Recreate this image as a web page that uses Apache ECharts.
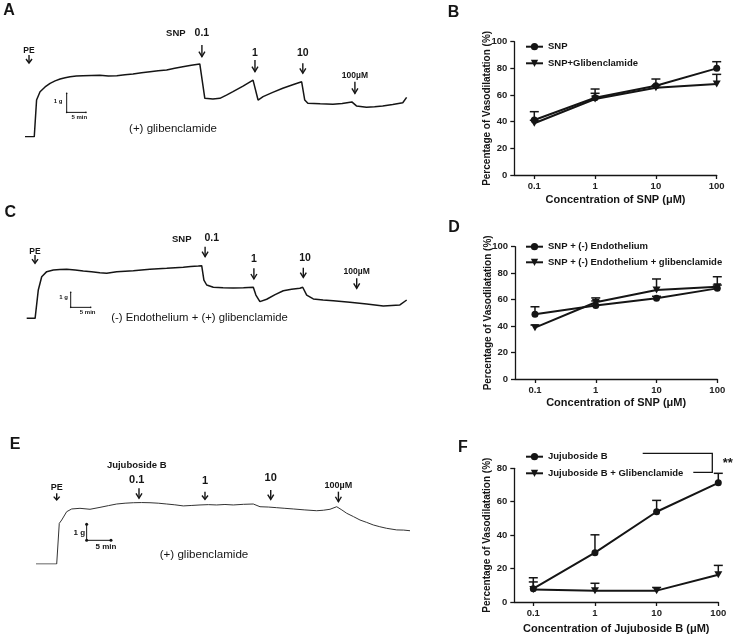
<!DOCTYPE html>
<html><head><meta charset="utf-8">
<script src="https://cdn.jsdelivr.net/npm/echarts@6/dist/echarts.min.js"></script>
<style>html,body{margin:0;padding:0;background:#fff}#c{width:736px;height:635px}</style>
</head><body><div id="c"></div>
<script>
// ---------- dose–response data (% vasodilatation) ----------
const concentrations = [0.1, 1, 10, 100];
const xTickLabels = ['0.1', '1', '10', '100'];
const snpB = [41.3, 58, 67, 80];
const snpBErr = [47.5, 64.5, 72, 85];
const snpGlibB = [38.8, 57, 65.5, 68.3];
const snpGlibBErr = [41, 61.3, 67, 75.5];
const snpEndoD = [49, 55.5, 61, 68.5];
const snpEndoDErr = [54.6, 59, 62.5, 71];
const snpEndoGlibD = [38.8, 58, 67.3, 69.8];
const snpEndoGlibDErr = [40.8, 61.3, 75.6, 77.3];
const jujuF = [8, 29.5, 54, 71.3];
const jujuFErr = [14.5, 40.2, 60.8, 77];
const jujuGlibF = [7.5, 6.8, 6.8, 16.3];
const jujuGlibFErr = [12, 11.2, 8.7, 21.9];

// ---------- tension traces: [time (min), tension (g)] ----------
const traceA = [[0,0],[2.4,0],[3.0,1.93],[3.9,2.37],[5.2,2.62],[6.5,2.81],[7.8,2.94],[9.1,3.04],[10.4,3.1],[11.7,3.16],[13.3,3.19],[15.0,3.21],[17.2,3.22],[19.4,3.23],[21.6,3.2],[23.8,3.21],[25.9,3.26],[28.0,3.3],[30.2,3.36],[32.4,3.42],[34.5,3.47],[36.7,3.51],[38.8,3.6],[40.9,3.68],[43.1,3.76],[45.3,3.83],[45.8,3.86],[46.6,2.02],[47.0,1.98],[48.7,1.99],[50.5,2.02],[52.2,2.19],[53.9,2.37],[56.5,2.66],[59.1,2.98],[59.6,2.89],[60.4,1.93],[61.7,2.11],[64.2,2.33],[66.8,2.55],[69.2,2.72],[71.7,2.89],[72.5,1.93],[73.3,1.76],[76.5,1.73],[79.8,1.71],[82.2,1.75],[84.7,1.83],[85.0,1.89],[85.9,1.62],[88.5,1.55],[90.6,1.58],[92.7,1.62],[95.3,1.7],[97.9,1.79],[98.9,2.07]];
const traceC = [[0,0],[2.1,0],[2.9,1.89],[3.75,2.77],[5.0,3.11],[6.65,3.22],[8.3,3.25],[10.0,3.27],[12.1,3.22],[14.15,3.15],[16.2,3.1],[18.3,3.04],[20.0,3.0],[22.5,3.11],[24.6,3.14],[26.65,3.17],[28.7,3.22],[30.8,3.27],[32.9,3.3],[35.0,3.33],[37.1,3.37],[39.15,3.4],[41.0,3.45],[42.9,3.49],[43.75,3.51],[44.3,2.55],[45.0,2.22],[46.65,2.07],[49.1,2.04],[51.65,2.02],[54.2,2.04],[56.65,2.07],[57.3,1.55],[58.3,1.11],[60.0,1.27],[62.1,1.58],[64.15,1.84],[66.2,1.93],[68.3,2.0],[69.0,2.07],[70.0,1.55],[71.65,1.29],[74.1,1.22],[76.65,1.17],[80.8,1.07],[85.0,0.95],[89.15,0.82],[93.3,0.89],[95.0,1.22]];
const traceE = [[0,0],[4.25,0],[4.78,2.54],[5.28,2.75],[6.3,3.27],[7.33,3.44],[9.03,3.48],[11.09,3.42],[13.14,3.54],[14.9,3.65],[16.57,3.75],[18.3,3.8],[19.98,3.83],[21.7,3.84],[23.41,3.83],[25.1,3.8],[26.84,3.75],[28.5,3.7],[30.25,3.63],[32.0,3.66],[33.68,3.69],[35.4,3.71],[37.1,3.69],[38.8,3.72],[40.51,3.69],[42.6,3.73],[44.62,3.75],[46.0,3.58],[47.7,3.56],[49.43,3.52],[51.1,3.48],[52.83,3.44],[55.2,3.38],[57.64,3.33],[59.0,3.36],[60.37,3.42],[61.75,3.58],[62.8,3.38],[63.8,3.17],[65.2,2.96],[66.53,2.75],[67.9,2.6],[69.26,2.44],[70.6,2.33],[72.01,2.23],[74.07,2.13],[75.5,2.12],[76.8,2.08]];

// ---------- drug-addition arrows: [time, arrow top (g), arrow tip (g)] ----------
const arrowsA = [[1.04,4.30,3.88],[45.85,4.83,4.21],[59.6,4.04,3.42],[72.0,3.86,3.34],[85.5,2.89,2.28]];
const labelsA = [[1.04,4.51,'PE'],[39.1,5.44,'SNP'],[45.85,5.44,'0.1'],[59.6,4.39,'1'],[72.0,4.39,'10'],[85.5,3.19,'100µM']];
const arrowsC = [[2.08,4.22,3.67],[44.6,4.77,4.11],[56.8,3.33,2.62],[69.15,3.37,2.73],[82.5,2.67,2.0]];
const labelsC = [[2.08,4.44,'PE'],[38.75,5.27,'SNP'],[46.25,5.33,'0.1'],[56.8,3.93,'1'],[69.6,4.0,'10'],[82.5,3.11,'100µM']];
const arrowsE = [[4.25,4.42,4.0],[21.15,4.73,4.11],[34.7,4.52,4.04],[48.2,4.63,4.04],[62.1,4.52,3.89]];
const labelsE = [[4.25,4.77,'PE'],[20.68,6.19,'Jujuboside B'],[20.68,5.25,'0.1'],[34.7,5.21,'1'],[48.2,5.36,'10'],[62.1,4.875,'100µM']];
// scale bars: anchor [time, g]; 1 g vertical, 5 min horizontal
const scaleBarA = [10.8, 1.28];
const scaleBarC = [11.0, 0.73];
const scaleBarE = [10.4, 1.48];
const scaleMinutes = 5, scaleGrams = 1;

const FF = 'Liberation Sans, Arial, sans-serif';
const INK = '#151515';
const chart = echarts.init(document.getElementById('c'));

function fontFor(text, big) {
  if (text === 'PE' || text === '100µM') return big ? 9 : 8.5;
  if (text === 'SNP') return 9.5;
  if (text === 'Jujuboside B') return 9.5;
  return big ? 11 : 10.5;
}

function arrowSeries(arr, gi) {
  return { type: 'custom', xAxisIndex: gi, yAxisIndex: gi, silent: true, clip: false,
    data: arr,
    renderItem: function (params, api) {
      const t = api.value(0);
      const top = api.coord([t, api.value(1)]);
      const tip = api.coord([t, api.value(2)]);
      const h = Math.min(5, (tip[1] - top[1]) * 0.5), w = 3;
      return { type: 'group', children: [
        { type: 'line', shape: { x1: top[0], y1: top[1], x2: tip[0], y2: tip[1] }, style: { stroke: INK, lineWidth: 1.4 } },
        { type: 'polyline', shape: { points: [[tip[0] - w, tip[1] - h], [tip[0], tip[1]], [tip[0] + w, tip[1] - h]] }, style: { stroke: INK, lineWidth: 1.4, fill: null } }
      ]};
    } };
}
function labelSeries(arr, gi, big) {
  return { type: 'custom', xAxisIndex: gi, yAxisIndex: gi, silent: true, clip: false,
    data: arr.map(d => [d[0], d[1]]),
    renderItem: function (params, api) {
      const p = api.coord([api.value(0), api.value(1)]);
      const txt = arr[params.dataIndex][2];
      return { type: 'text', x: p[0], y: p[1], style: { text: txt, fill: INK,
        fontSize: fontFor(txt, big), fontWeight: 'bold', fontFamily: FF, align: 'center', verticalAlign: 'middle' } };
    } };
}
function scaleBarSeries(anchor, gi, fs, dx1, dy1, dx2, dy2, dots) {
  return { type: 'custom', xAxisIndex: gi, yAxisIndex: gi, silent: true, clip: false,
    data: [anchor],
    renderItem: function (params, api) {
      const t = api.value(0), g = api.value(1);
      const o = api.coord([t, g]), v = api.coord([t, g + scaleGrams]), h = api.coord([t + scaleMinutes, g]);
      const ch = [
        { type: 'line', shape: { x1: o[0], y1: o[1], x2: v[0], y2: v[1] }, style: { stroke: INK, lineWidth: 1 } },
        { type: 'line', shape: { x1: o[0], y1: o[1], x2: h[0], y2: h[1] }, style: { stroke: INK, lineWidth: 1 } },
        { type: 'text', x: o[0] + dx1, y: (o[1] + v[1]) / 2 + dy1, style: { text: '1 g', fill: INK, fontSize: fs, fontWeight: 'bold', fontFamily: FF, align: 'center', verticalAlign: 'middle' } },
        { type: 'text', x: h[0] + dx2, y: h[1] + dy2, style: { text: '5 min', fill: INK, fontSize: fs, fontWeight: 'bold', fontFamily: FF, align: 'center', verticalAlign: 'middle' } }
      ];
      [o, v, h].forEach(p => ch.push({ type: 'circle', shape: { cx: p[0], cy: p[1], r: dots }, style: { fill: INK } }));
      return { type: 'group', children: ch };
    } };
}
function traceSeries(data, gi, width, color) {
  return { type: 'line', xAxisIndex: gi, yAxisIndex: gi, data: data, showSymbol: false, silent: true,
    lineStyle: { width: width, color: color }, z: 3 };
}
function errSeries(vals, errs, gi) {
  return { type: 'custom', xAxisIndex: gi, yAxisIndex: gi, silent: true, z: 1,
    data: concentrations.map((c, i) => [c, vals[i], errs[i]]),
    renderItem: function (params, api) {
      const c = api.value(0);
      const p0 = api.coord([c, api.value(1)]), p1 = api.coord([c, api.value(2)]);
      return { type: 'group', children: [
        { type: 'line', shape: { x1: p0[0], y1: p0[1], x2: p1[0], y2: p1[1] }, style: { stroke: INK, lineWidth: 1.5 } },
        { type: 'line', shape: { x1: p1[0] - 4.5, y1: p1[1], x2: p1[0] + 4.5, y2: p1[1] }, style: { stroke: INK, lineWidth: 1.5 } }
      ]};
    } };
}
const TRI = 'path://M0,0L10,0L5,8.7Z';
function doseSeries(name, vals, gi, tri) {
  return { type: 'line', name: name, xAxisIndex: gi, yAxisIndex: gi,
    data: concentrations.map((c, i) => [c, vals[i]]),
    symbol: tri ? TRI : 'circle', symbolSize: tri ? [8, 7] : 7, showAllSymbol: true,
    lineStyle: { width: 2, color: INK }, itemStyle: { color: INK }, z: 2 };
}
function tickFmt(v) {
  for (let i = 0; i < concentrations.length; i++) if (Math.abs(Math.log10(v) - Math.log10(concentrations[i])) < 1e-6) return xTickLabels[i];
  return '';
}
function doseX(gi, min, name, gap) {
  return { gridIndex: gi, type: 'log', logBase: 10, min: min, max: 100,
    name: name, nameLocation: 'middle', nameGap: gap, nameMoveOverlap: false,
    nameTextStyle: { fontSize: 11, fontWeight: 'bold', color: INK, fontFamily: FF },
    axisLine: { lineStyle: { color: INK, width: 1.3 } },
    axisTick: { length: 4, lineStyle: { color: INK, width: 1.3 }, customValues: concentrations },
    axisLabel: { customValues: concentrations, formatter: tickFmt, fontSize: 9.5, fontWeight: 'bold', color: '#222', fontFamily: FF, margin: 6 },
    splitLine: { show: false }, minorTick: { show: false } };
}
function doseY(gi, max) {
  return { gridIndex: gi, type: 'value', min: 0, max: max, interval: 20,
    name: 'Percentage of Vasodilatation (%)', nameLocation: 'middle', nameGap: 22, nameMoveOverlap: false,
    nameTextStyle: { fontSize: 10, fontWeight: 'bold', color: INK, fontFamily: FF },
    axisLine: { show: true, lineStyle: { color: INK, width: 1.3 } },
    axisTick: { show: true, length: 4, lineStyle: { color: INK, width: 1.3 } },
    axisLabel: { fontSize: 9.5, fontWeight: 'bold', color: '#222', fontFamily: FF, margin: 7 },
    splitLine: { show: false } };
}
function traceAxes(gi, xmax) {
  return [
    { gridIndex: gi, type: 'value', min: 0, max: xmax, show: false },
    { gridIndex: gi, type: 'value', min: 0, max: 5, show: false }
  ];
}
function legendFor(names, top, gap) {
  return { data: names, orient: 'vertical', left: 525, top: top, padding: 0, itemWidth: 17, itemHeight: 9, itemGap: gap,
    selectedMode: false, textStyle: { fontSize: 9.5, fontWeight: 'bold', color: INK, fontFamily: FF, lineHeight: 12 } };
}
function txt(x, y, s, size, weight, align) {
  return { type: 'text', x: x, y: y, style: { text: s, fontSize: size, fontWeight: weight, fontFamily: FF, fill: INK,
    align: align || 'center', verticalAlign: 'middle' } };
}

const tA = traceAxes(0, 99), tC = traceAxes(2, 95), tE = traceAxes(4, 76.8);

const option = {
  animation: false,
  backgroundColor: '#fff',
  grid: [
    { left: 25, top: 41.7, width: 382, height: 95 },
    { left: 514.3, top: 41.7, width: 202.4, height: 133.3 },
    { left: 26.7, top: 243.3, width: 380, height: 75 },
    { left: 515, top: 246.7, width: 202.3, height: 132.3 },
    { left: 36, top: 484, width: 374, height: 80 },
    { left: 514.3, top: 468.3, width: 204, height: 134.4 }
  ],
  xAxis: [tA[0], doseX(1, 0.0469, 'Concentration of SNP (μM)', 19), tC[0], doseX(3, 0.0469, 'Concentration of SNP (μM)', 18),
          tE[0], doseX(5, 0.0492, 'Concentration of Jujuboside B (μM)', 21)],
  yAxis: [tA[1], doseY(1, 100), tC[1], doseY(3, 100), tE[1], doseY(5, 80)],
  legend: [
    legendFor(['SNP', 'SNP+Glibenclamide'], 40.7, 4.6),
    legendFor(['SNP + (-) Endothelium', 'SNP + (-) Endothelium + glibenclamide'], 240.7, 3.6),
    legendFor(['Jujuboside B', 'Jujuboside B + Glibenclamide'], 450.7, 4.6)
  ],
  series: [
    traceSeries(traceA, 0, 1.5, INK), arrowSeries(arrowsA, 0), labelSeries(labelsA, 0, false), scaleBarSeries(scaleBarA, 0, 6, -8.5, -2, -6.7, 4.5, 0.8),
    traceSeries(traceC, 2, 1.5, INK), arrowSeries(arrowsC, 2), labelSeries(labelsC, 2, false), scaleBarSeries(scaleBarC, 2, 6, -7, -3, -3, 4.7, 0.8),
    traceSeries(traceE, 4, 1, '#333'), arrowSeries(arrowsE, 4), labelSeries(labelsE, 4, true), scaleBarSeries(scaleBarE, 4, 8, -7.4, 0, -5, 6.4, 1.5),
    errSeries(snpB, snpBErr, 1), errSeries(snpGlibB, snpGlibBErr, 1),
    doseSeries('SNP', snpB, 1, false), doseSeries('SNP+Glibenclamide', snpGlibB, 1, true),
    errSeries(snpEndoD, snpEndoDErr, 3), errSeries(snpEndoGlibD, snpEndoGlibDErr, 3),
    doseSeries('SNP + (-) Endothelium', snpEndoD, 3, false), doseSeries('SNP + (-) Endothelium + glibenclamide', snpEndoGlibD, 3, true),
    errSeries(jujuF, jujuFErr, 5), errSeries(jujuGlibF, jujuGlibFErr, 5),
    doseSeries('Jujuboside B', jujuF, 5, false), doseSeries('Jujuboside B + Glibenclamide', jujuGlibF, 5, true)
  ],
  graphic: [
    txt(9, 10.5, 'A', 16, 'bold'), txt(453.5, 13, 'B', 16, 'bold'),
    txt(10.3, 213, 'C', 16, 'bold'), txt(454, 228, 'D', 16, 'bold'),
    txt(15, 445, 'E', 16, 'bold'), txt(463, 447.2, 'F', 16, 'bold'),
    txt(173, 129, '(+) glibenclamide', 11.5, 'normal'),
    txt(199.5, 318.3, '(-) Endothelium + (+) glibenclamide', 11.3, 'normal'),
    txt(204, 554.3, '(+) glibenclamide', 11.6, 'normal'),
    { type: 'polyline', shape: { points: [[642.7, 453.3], [712.3, 453.3], [712.3, 472.3], [693.3, 472.3]] }, style: { stroke: INK, lineWidth: 1.3, fill: null } },
    txt(727.7, 463, '**', 13, 'bold')
  ]
};
chart.setOption(option);
</script></body></html>
